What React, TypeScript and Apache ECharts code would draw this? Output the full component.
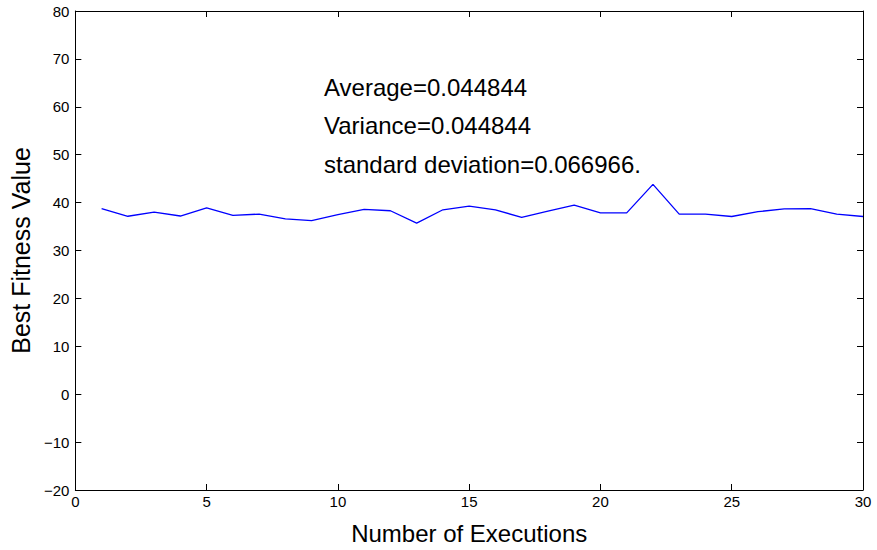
import React, { useEffect, useRef } from "react";
import * as echarts from "echarts";

const executions = [1,2,3,4,5,6,7,8,9,10,11,12,13,14,15,16,17,18,19,20,21,22,23,24,25,26,27,28,29,30];
const bestFitness = [38.75,37.15,38.0,37.2,38.9,37.35,37.6,36.6,36.25,37.5,38.6,38.3,35.7,38.5,39.25,38.5,36.9,38.2,39.45,37.85,37.85,43.8,37.6,37.6,37.1,38.1,38.7,38.75,37.6,37.1];
const statLines = ["Average=0.044844", "Variance=0.044844", "standard deviation=0.066966."];

const FONT = "'Liberation Sans', Arial, Helvetica, sans-serif";
const fmt = (v: number) => String(v).replace("-", "\u2212");

export default function App() {
  const ref = useRef<HTMLDivElement>(null);
  useEffect(() => {
    const chart = echarts.init(ref.current!, null, { renderer: "svg" });
    const axisLine = { show: true, onZero: false, lineStyle: { color: "#000", width: 1 } };
    const tick = { show: true, inside: true, length: 6, lineStyle: { color: "#000" } };
    chart.setOption({
      animation: false,
      backgroundColor: "#fff",
      grid: { left: 73, right: 14, top: 11, bottom: 59, show: false },
      xAxis: [
        {
          type: "value", min: 0, max: 30, interval: 5, position: "bottom",
          axisLine, axisTick: tick, splitLine: { show: false },
          axisLabel: { color: "#000", fontSize: 15, fontFamily: FONT, margin: 4, formatter: fmt },
          name: "Number of Executions", nameLocation: "middle", nameGap: 31,
          nameTextStyle: { color: "#000", fontSize: 24, fontFamily: FONT },
        },
        {
          type: "value", min: 0, max: 30, interval: 5, position: "top",
          axisLine, axisTick: tick, axisLabel: { show: false }, splitLine: { show: false },
        },
      ],
      yAxis: [
        {
          type: "value", min: -20, max: 80, interval: 10, position: "left",
          axisLine, axisTick: tick, splitLine: { show: false },
          axisLabel: { color: "#000", fontSize: 15, fontFamily: FONT, margin: 6, formatter: fmt },
          name: "Best Fitness Value", nameLocation: "middle", nameGap: 42,
          nameTextStyle: { color: "#000", fontSize: 25, fontFamily: FONT },
        },
        {
          type: "value", min: -20, max: 80, interval: 10, position: "right",
          axisLine, axisTick: tick, axisLabel: { show: false }, splitLine: { show: false },
        },
      ],
      series: [
        {
          type: "line",
          data: executions.map((x, i) => [x, bestFitness[i]]),
          showSymbol: false,
          lineStyle: { color: "#0000ff", width: 1.3 },
          itemStyle: { color: "#0000ff" },
        },
      ],
      graphic: statLines.map((t, i) => ({
        type: "text",
        left: 324,
        top: 75 + i * 38.5,
        style: { text: t, fill: "#000", fontSize: 24, fontFamily: FONT },
      })),
    });
    return () => chart.dispose();
  }, []);
  return <div ref={ref} style={{ width: 877, height: 550, position: "absolute", left: 0, top: 0 }} />;
}
